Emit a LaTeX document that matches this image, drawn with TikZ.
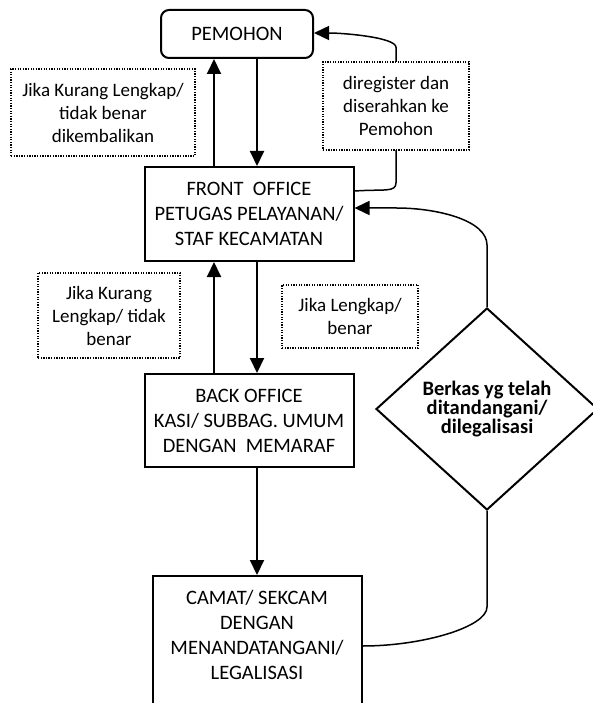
\documentclass[tikz,border=0pt]{standalone}
\usepackage{fontspec}
\setmainfont{Carlito}
\usetikzlibrary{shapes.geometric,arrows.meta,calc,backgrounds}
\tikzset{
  mainbox/.style={draw, line width=2pt, fill=white, inner sep=0pt, align=center,
    font=\fontsize{20.5}{25}\selectfont},
  notebox/.style={draw, line width=1.3pt, dash pattern=on 1.3pt off 1.3pt, fill=white,
    inner sep=0pt, align=center, font=\fontsize{19}{23}\selectfont},
  decbox/.style={draw, diamond, line width=2pt, fill=white, inner sep=0pt, align=center,
    font=\bfseries\fontsize{20.5}{15.5}\selectfont},
  conn/.style={line width=2pt, -{Triangle[width=14pt,length=15pt]}},
  ret/.style={line width=1.5pt},
  retarr/.style={line width=1.5pt, -{Triangle[width=14pt,length=15pt]}}
}
\begin{document}
\begin{tikzpicture}[x=1pt,y=-1pt]
\useasboundingbox (0,0) rectangle (593,703);
% main nodes
\node[mainbox, rounded corners=8pt, minimum width=152pt, minimum height=48pt] (pem) at (237,34) {PEMOHON};
\node[mainbox, minimum width=209pt, minimum height=94pt] (front) at (249,214)
  {FRONT~~OFFICE\\PETUGAS PELAYANAN/\\STAF KECAMATAN};
\node[mainbox, minimum width=209pt, minimum height=93pt] (back) at (249,420.5)
  {BACK OFFICE\\KASI/ SUBBAG. UMUM\\DENGAN~~MEMARAF};
\node[mainbox, minimum width=209pt, minimum height=140pt, anchor=north] (camat) at (257,575)
  {CAMAT/ SEKCAM\\DENGAN\\MENANDATANGANI/\\LEGALISASI\rule[-22pt]{0pt}{22pt}};
\node[decbox, minimum width=222pt, minimum height=202pt] (dia) at (487,409)
  {Berkas yg telah\\ditandangani/\\dilegalisasi};
% note boxes
\node[notebox, minimum width=184pt, minimum height=87pt] (L1) at (103,112.5)
  {Jika Kurang Lengkap/\\tidak benar\\dikembalikan};
\node[notebox, minimum width=146pt, minimum height=88pt] (R1) at (396,106)
  {diregister dan\\diserahkan ke\\Pemohon};
\node[notebox, minimum width=142pt, minimum height=85pt] (L2) at (109,315.5)
  {Jika Kurang\\Lengkap/ tidak\\benar};
\node[notebox, minimum width=136pt, minimum height=63pt] (R2) at (350,316.5)
  {Jika Lengkap/\\benar};
% connectors
\begin{pgfonlayer}{background}
\draw[conn] ([xshift=-35pt]front.north) -- ([xshift=-35pt]front.north |- pem.south);
\draw[conn] ([xshift=8pt]front.north |- pem.south) -- ([xshift=8pt]front.north);
\draw[conn] ([xshift=-35pt]back.north) -- ([xshift=-35pt]front.south);
\draw[conn] ([xshift=8pt]front.south) -- ([xshift=8pt]back.north);
\draw[conn] ([xshift=8pt]back.south) -- (camat.north);
\draw[retarr] ([yshift=23pt]front.east) .. controls +(30,-2) and +(0,10) .. ($(R1.south)+(0,32)$)
  -- ($(R1.north)+(0,-14)$) .. controls +(0,-10) and +(30,0) .. ([yshift=1pt]pem.east);
\draw[retarr] (dia.north) -- ($(dia.north)+(0,-62)$) .. controls +(0,-25) and +(40,0) ..
  ($(front.east)+(42,-6)$) -- ([yshift=6pt]front.east);
\draw[ret] (camat.east) .. controls +(60,0) and +(0,20) .. ($(dia.south)+(0,96)$) -- (dia.south);
\end{pgfonlayer}
\end{tikzpicture}
\end{document}
